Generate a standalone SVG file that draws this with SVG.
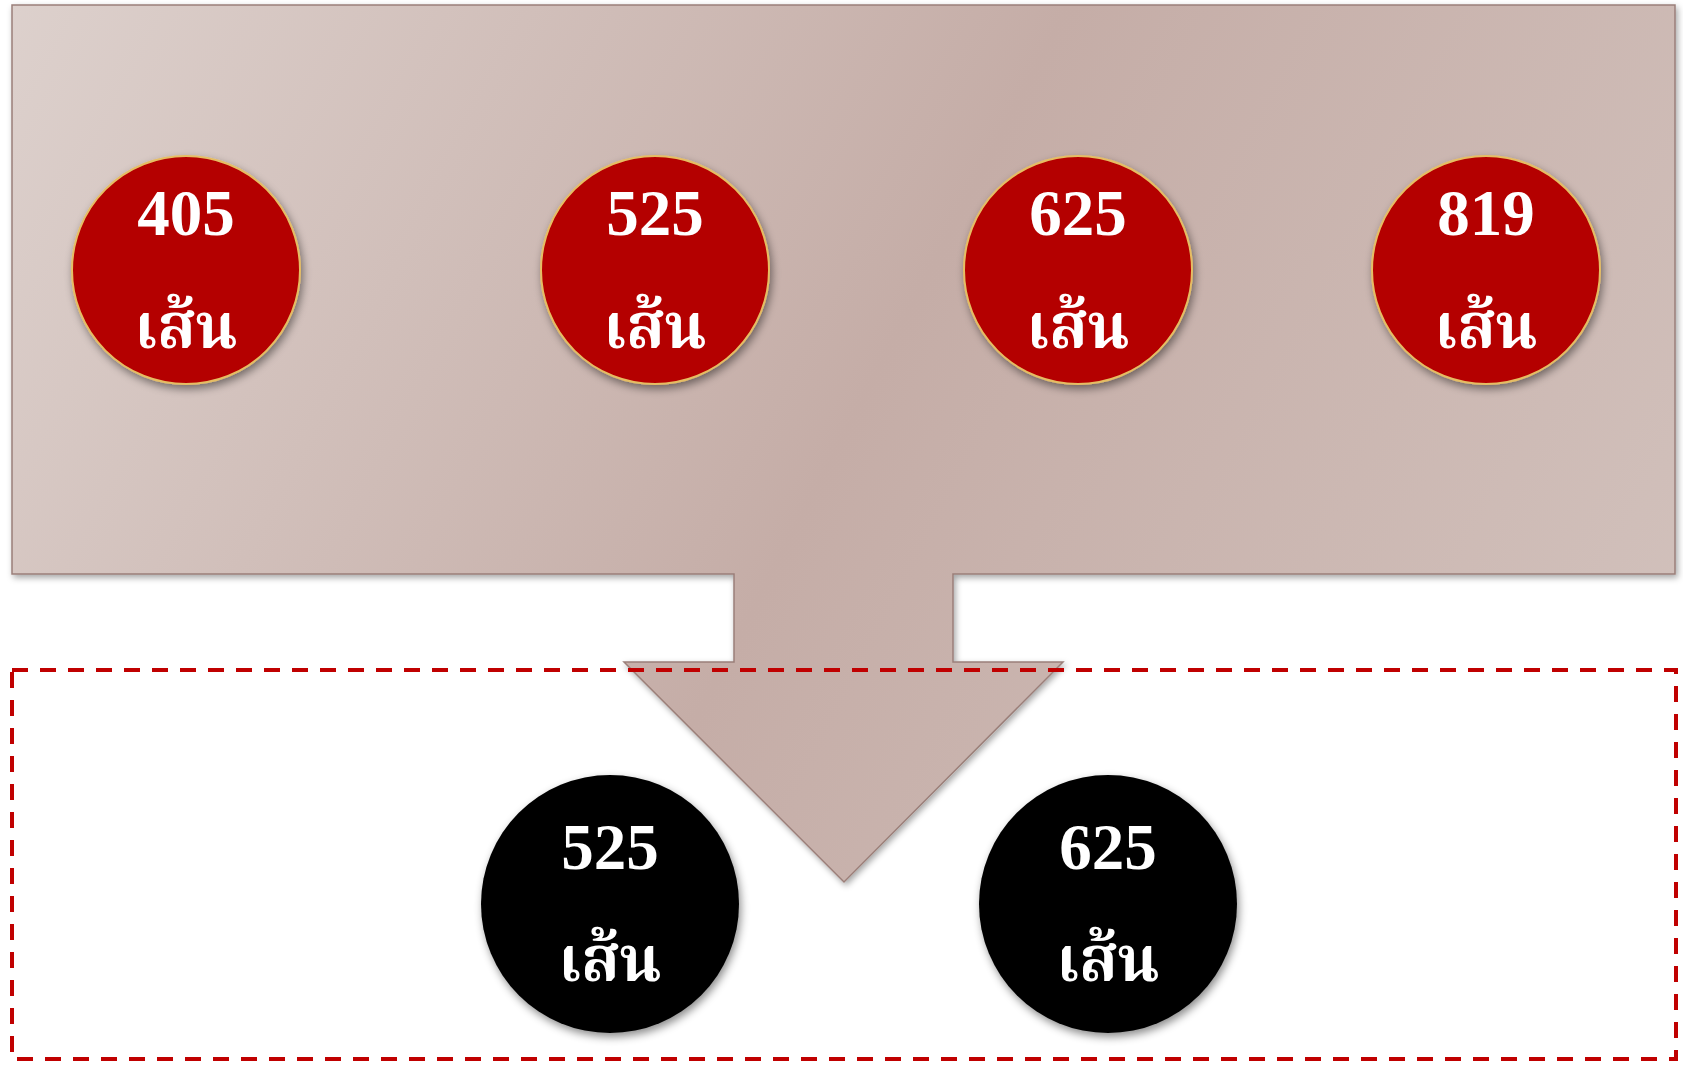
<svg xmlns="http://www.w3.org/2000/svg" width="1683" height="1066" viewBox="0 0 1683 1066">
  <defs>
    <linearGradient id="panelFill" x1="0" y1="0" x2="1683" y2="880" gradientUnits="userSpaceOnUse">
      <stop offset="0" stop-color="#ddd1cd"/>
      <stop offset="0.5" stop-color="#c5ada7"/>
      <stop offset="1" stop-color="#d3c3be"/>
    </linearGradient>
    <filter id="shadow" x="-10%" y="-10%" width="130%" height="130%">
      <feDropShadow dx="2" dy="4" stdDeviation="4" flood-color="#000" flood-opacity="0.45"/>
    </filter>
    <filter id="panelShadow" x="-5%" y="-5%" width="110%" height="115%">
      <feDropShadow dx="2" dy="3" stdDeviation="3" flood-color="#000" flood-opacity="0.35"/>
    </filter>
  </defs>
  <style>
    .panel { fill: url(#panelFill); stroke: #9b7f79; stroke-width: 1.5; }
    .red { fill: #b40000; stroke: #e6bd63; stroke-width: 2; }
    .black { fill: #000; }
    .frame { fill: none; stroke: #c00000; stroke-width: 4; stroke-dasharray: 16 12; }
    .num { font-family: "Liberation Serif", "Times New Roman", serif; font-weight: bold; font-size: 65px; fill: #fff; text-anchor: middle; }
    .thai { font-family: "Noto Serif Thai", "Noto Looped Thai", "Noto Sans Thai", "Liberation Serif", serif; font-weight: bold; font-size: 62px; fill: #fff; text-anchor: middle; }
  </style>

  <rect width="1683" height="1066" fill="#fff"/>

  <!-- panel with downward arrow -->
  <g id="panel">
    <path class="panel" filter="url(#panelShadow)" d="M12,5 H1675 V574 H953 V662 H1063 L844,882 L624,662 H734 V574 H12 Z"/>
  </g>

  <!-- dashed selection frame -->
  <g id="frame">
    <rect class="frame" x="12" y="670" width="1664" height="389"/>
  </g>

  <!-- upper options -->
  <g id="n405" filter="url(#shadow)">
    <circle class="red" cx="186" cy="270" r="114"/>
    <text class="num" x="186" y="235">405</text>
    <text class="thai" x="186" y="348">เส้น</text>
  </g>
  <g id="n525" filter="url(#shadow)">
    <circle class="red" cx="655" cy="270" r="114"/>
    <text class="num" x="655" y="235">525</text>
    <text class="thai" x="655" y="348">เส้น</text>
  </g>
  <g id="n625" filter="url(#shadow)">
    <circle class="red" cx="1078" cy="270" r="114"/>
    <text class="num" x="1078" y="235">625</text>
    <text class="thai" x="1078" y="348">เส้น</text>
  </g>
  <g id="n819" filter="url(#shadow)">
    <circle class="red" cx="1486" cy="270" r="114"/>
    <text class="num" x="1486" y="235">819</text>
    <text class="thai" x="1486" y="348">เส้น</text>
  </g>

  <!-- selected results -->
  <g id="r525" filter="url(#shadow)">
    <circle class="black" cx="610" cy="904" r="129"/>
    <text class="num" x="610" y="869">525</text>
    <text class="thai" x="610" y="981">เส้น</text>
  </g>
  <g id="r625" filter="url(#shadow)">
    <circle class="black" cx="1108" cy="904" r="129"/>
    <text class="num" x="1108" y="869">625</text>
    <text class="thai" x="1108" y="981">เส้น</text>
  </g>

  <!-- connectors: none besides the panel arrow -->
  <g id="connectors"/>
</svg>
